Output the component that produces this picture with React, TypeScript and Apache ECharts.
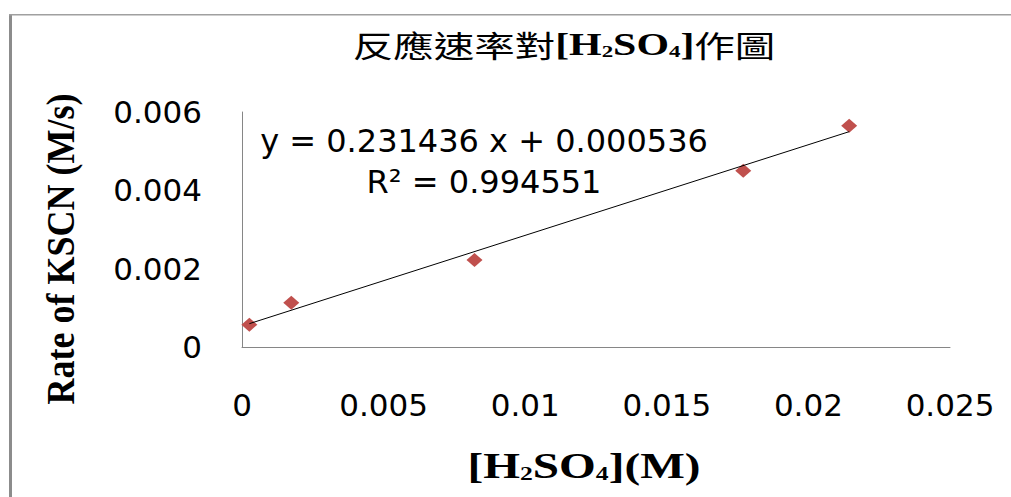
import React, { useEffect, useRef } from "react";
import * as echarts from "echarts";

// Data
const concH2SO4 = [0.00026, 0.00174, 0.00821, 0.0177, 0.02144];
const rateKSCN = [0.00057, 0.00113, 0.00222, 0.0045, 0.00565];

// Linear trendline shown in the chart
const trendSlope = 0.231436;
const trendIntercept = 0.000536;
const equationText = "y = 0.231436 x + 0.000536";
const r2Text = "R² = 0.994551";

// Axis ranges / ticks
const xMin = 0;
const xMax = 0.025;
const xInterval = 0.005;
const yMin = 0;
const yMax = 0.006;
const yInterval = 0.002;

const fmt = (v: number) => (v === 0 ? "0" : String(parseFloat(v.toFixed(4))));

export default function App() {
  const ref = useRef<HTMLDivElement>(null);

  useEffect(() => {
    if (!ref.current) return;
    const chart = echarts.init(ref.current, undefined, { renderer: "svg" });

    const points = concH2SO4.map((x, i) => [x, rateKSCN[i]]);
    const x0 = Math.min(...concH2SO4);
    const x1 = Math.max(...concH2SO4);
    const trend = [
      [x0, trendSlope * x0 + trendIntercept],
      [x1, trendSlope * x1 + trendIntercept],
    ];

    const axisLabelStyle = {
      fontFamily: "DejaVu Sans",
      fontSize: 31,
      color: "#000",
      formatter: fmt,
    };

    chart.setOption({
      animation: false,
      backgroundColor: "#fff",
      grid: { left: 242, right: 61, top: 112, bottom: 150, containLabel: false },
      xAxis: {
        type: "value",
        min: xMin,
        max: xMax,
        interval: xInterval,
        axisLine: { show: true, lineStyle: { color: "#868686", width: 1 } },
        axisTick: { show: false },
        splitLine: { show: false },
        axisLabel: { ...axisLabelStyle, margin: 42 },
      },
      yAxis: {
        type: "value",
        min: yMin,
        max: yMax,
        interval: yInterval,
        axisLine: { show: true, lineStyle: { color: "#868686", width: 1 } },
        axisTick: { show: false },
        splitLine: { show: false },
        axisLabel: { ...axisLabelStyle, margin: 40 },
      },
      series: [
        {
          type: "line",
          data: trend,
          symbol: "none",
          silent: true,
          lineStyle: { color: "#000", width: 1 },
          z: 3,
        },
        {
          type: "scatter",
          data: points,
          symbol: "diamond",
          symbolSize: [16, 14],
          itemStyle: { color: "#c0504d", opacity: 1 },
          z: 2,
        },
      ],
      graphic: [
        {
          type: "rect",
          shape: { x: 9, y: 14, width: 3, height: 483 },
          style: { fill: "#8c8c8c" },
        },
        {
          type: "rect",
          shape: { x: 9, y: 14, width: 1002, height: 1.5 },
          style: { fill: "#a0a0a0" },
        },
        {
          type: "text",
          x: 564,
          y: 44,
          scaleX: 1.35,
          style: {
            text: "{c|反應速率對}{b|[H}{s|2}{b|SO}{s|4}{b|]}{c|作圖}",
            textAlign: "center",
            align: "center",
            textVerticalAlign: "middle",
            verticalAlign: "middle",
            fill: "#000",
            rich: {
              c: { fontFamily: "Noto Sans CJK TC", fontSize: 30, fontWeight: "normal", fill: "#000", color: "#000" },
              b: { fontFamily: "Liberation Serif", fontSize: 31, fontWeight: "bold", fill: "#000", color: "#000" },
              s: { fontFamily: "Liberation Serif", fontSize: 17, fontWeight: "bold", verticalAlign: "bottom", fill: "#000", color: "#000" },
            },
          },
        },
        {
          type: "text",
          x: 60,
          y: 249,
          rotation: Math.PI / 2,
          scaleY: 1.1,
          style: {
            text: "Rate of KSCN (M/s)",
            fontFamily: "Liberation Serif",
            fontWeight: "bold",
            fontSize: 36,
            fill: "#000",
            textAlign: "center",
            align: "center",
            textVerticalAlign: "middle",
            verticalAlign: "middle",
          },
        },
        {
          type: "text",
          x: 584,
          y: 466,
          scaleX: 1.35,
          style: {
            text: "{b|[H}{s|2}{b|SO}{s|4}{b|](M)}",
            textAlign: "center",
            align: "center",
            textVerticalAlign: "middle",
            verticalAlign: "middle",
            fill: "#000",
            rich: {
              b: { fontFamily: "Liberation Serif", fontSize: 35, fontWeight: "bold", fill: "#000", color: "#000" },
              s: { fontFamily: "Liberation Serif", fontSize: 19, fontWeight: "bold", verticalAlign: "bottom", fill: "#000", color: "#000" },
            },
          },
        },
        {
          type: "text",
          x: 484,
          y: 141,
          style: {
            text: equationText,
            fontFamily: "DejaVu Sans",
            fontSize: 32,
            fill: "#000",
            textAlign: "center",
            align: "center",
            textVerticalAlign: "middle",
            verticalAlign: "middle",
          },
        },
        {
          type: "text",
          x: 484,
          y: 182,
          style: {
            text: r2Text,
            fontFamily: "DejaVu Sans",
            fontSize: 32,
            fill: "#000",
            textAlign: "center",
            align: "center",
            textVerticalAlign: "middle",
            verticalAlign: "middle",
          },
        },
      ],
    });

    return () => chart.dispose();
  }, []);

  return (
    <div
      ref={ref}
      style={{ position: "fixed", left: 0, top: 0, width: 1011, height: 497, background: "#fff" }}
    />
  );
}
